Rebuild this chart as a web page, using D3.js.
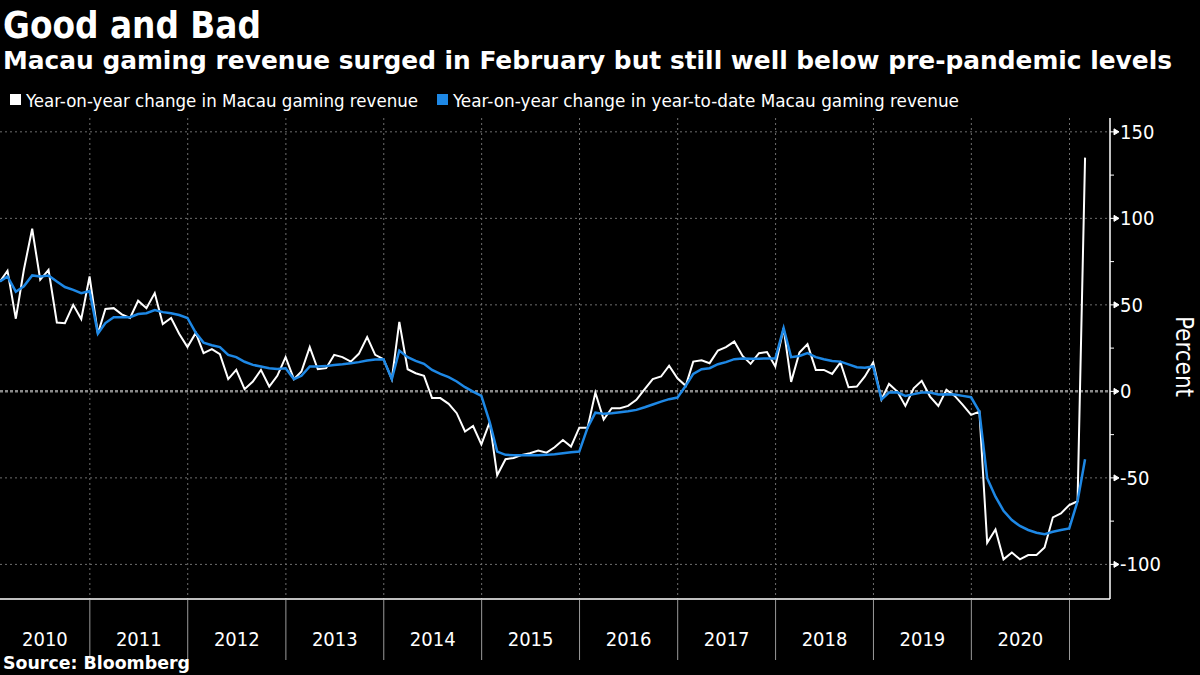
<!DOCTYPE html>
<html>
<head>
<meta charset="utf-8">
<script src="https://cdn.jsdelivr.net/npm/d3@7"></script>
<style>
  body { margin: 0; background: #000; }
  svg { display: block; background: #000; }
  text { font-family: "DejaVu Sans Condensed", "DejaVu Sans", sans-serif; fill: #fff; }
</style>
</head>
<body>
<svg width="1200" height="675"></svg>
<script>
// Monthly series, Jan 2010 .. Feb 2021 (percent, year-on-year)
const yoyMonthly = [
    63.5, 69.7, 42, 70.3, 94, 64.5, 70.3, 39.8, 39.4, 50, 41.8, 66.4,            // 2010
    33.4, 47.6, 48.1, 44.5, 42.4, 52.4, 48.1, 56.8, 38.9, 42.4, 33.3, 25.6,      // 2011
    33.8, 22.1, 24.4, 21.5, 7.1, 12.4, 1.3, 5.7, 12.4, 2.8, 9, 19.8,             // 2012
    7.1, 11.5, 25.6, 12.8, 13.4, 21.1, 19.8, 17.2, 21.7, 31.4, 21.1, 18.6,       // 2013
    7.1, 40.2, 12.8, 10.5, 9, -3.9, -3.9, -7.2, -12.6, -23.2, -20, -30.6,        // 2014
    -17.8, -48.5, -39.2, -38.5, -36.7, -35.8, -34.2, -35.4, -32.3, -28.1, -31.9, -21,  // 2015
    -21, -0.7, -16.3, -9.7, -9.7, -8.4, -4.9, 1.3, 7.1, 8.6, 14.8, 7.6,          // 2016
    3.2, 17.2, 18, 16.3, 23.6, 25.6, 28.8, 20.5, 15.9, 22.1, 22.7, 14.4,         // 2017
    36.6, 5.5, 22.5, 27.3, 12.4, 12.4, 10.1, 16.7, 2.4, 2.8, 8.6, 16.7,          // 2018
    -4.7, 4.3, -0.1, -8.4, 1.8, 6.1, -3, -8.4, 0.9, -2.6, -7.8, -13.6,           // 2019
    -11.7, -87.5, -79.8, -97.1, -93.1, -97.1, -94.6, -94.6, -90.2, -72.8, -70.5, -65.7, // 2020
    -63.5, 135.1                                                                 // 2021
];

// Year-to-date series, same months
const yoyYtd = [
    63.5, 66.4, 57.6, 60.7, 67, 66.4, 67, 63.5, 60.3, 58.7, 56.8, 58,
    33.4, 39.5, 42.9, 42.9, 42.9, 44.7, 45.2, 47, 45.8, 45.2, 44.1, 42.4,
    33.8, 28.2, 26.7, 25.6, 21.1, 19.8, 17.1, 15.3, 14.4, 13.4, 13, 13.4,
    7.1, 9, 14.4, 14.4, 14.6, 15.3, 15.7, 16.3, 16.9, 17.8, 18.4, 18.6,
    7.1, 23.6, 19.8, 17.6, 15.9, 12.4, 10.1, 8.2, 5.7, 2.4, -0.1, -2.6,
    -17.8, -34.8, -36.7, -36.9, -36.9, -36.9, -36.9, -36.7, -36.4, -35.8, -35.2, -34.8,
    -21, -12.3, -13, -12.6, -12, -11.5, -10.7, -9.2, -7.6, -5.9, -4.5, -3.6,
    3.2, 10.1, 12.8, 13.4, 15.7, 16.9, 18.6, 19, 18.8, 18.9, 19, 19,
    36.6, 19.8, 20.5, 22.1, 19.8, 18.6, 17.6, 17.2, 15.6, 14, 13.6, 14.4,
    -4.7, -0.7, -0.5, -2.6, -1.6, -0.7, -0.7, -1.8, -1.6, -1.8, -2.6, -3.4,
    -11.7, -50.2, -60.9, -69, -74.4, -77.8, -80.1, -81.7, -82.5, -81.1, -80.1, -79.2,
    -63.5, -39.2
];

// Axis labels
const years = ["2010", "2011", "2012", "2013", "2014", "2015", "2016", "2017", "2018", "2019", "2020", "2021"];
const yTicks = [150, 100, 50, 0, -50, -100];
const yMinorTicks = [125, 75, 25, -25, -75];

const legendItems = [
    { label: "Year-on-year change in Macau gaming revenue", color: "#ffffff" },
    { label: "Year-on-year change in year-to-date Macau gaming revenue", color: "#1e88e5" }
];

// Chart constants
const svg = d3.select("svg");
const plotLeft = 0, plotRight = 1110, plotTop = 118, plotBottom = 599;

// month-end dates for each point
const dates = yoyMonthly.map((v, i) => new Date(2010, i + 1, 0));

const x = d3.scaleTime()
    .domain([new Date(2010, 0, 31), new Date(2021, 5, 1)])
    .range([plotLeft, plotRight]);

const y = d3.scaleLinear()
    .domain([-120, 158])
    .range([plotBottom, plotTop]);

// Titles
svg.append("text")
    .attr("x", 3).attr("y", 38)
    .attr("font-size", 38).attr("font-weight", "bold")
    .attr("textLength", 258).attr("lengthAdjust", "spacingAndGlyphs")
    .text("Good and Bad");

svg.append("text")
    .attr("x", 3).attr("y", 69)
    .attr("font-size", 25).attr("font-weight", "bold")
    .attr("textLength", 1169).attr("lengthAdjust", "spacingAndGlyphs")
    .text("Macau gaming revenue surged in February but still well below pre-pandemic levels");

// Legend
const legendX = [10, 437];
const legendW = [392, 506];
legendItems.forEach((item, i) => {
    svg.append("rect")
        .attr("x", legendX[i]).attr("y", 94)
        .attr("width", 11).attr("height", 11)
        .attr("fill", item.color);
    svg.append("text")
        .attr("x", legendX[i] + 16).attr("y", 107)
        .attr("font-size", 17)
        .attr("textLength", legendW[i]).attr("lengthAdjust", "spacingAndGlyphs")
        .text(item.label);
});

// Gridlines
svg.append("g")
    .selectAll("line")
    .data(yTicks)
    .enter()
    .append("line")
    .attr("x1", plotLeft).attr("x2", plotRight)
    .attr("y1", d => y(d)).attr("y2", d => y(d))
    .attr("stroke", d => d === 0 ? "#8a8a8a" : "#6e6e6e")
    .attr("stroke-width", d => d === 0 ? 2.5 : 1)
    .attr("stroke-dasharray", d => d === 0 ? "3,2" : "2,3");

const yearStarts = years.slice(1).map(yr => new Date(+yr, 0, 1));

svg.append("g")
    .selectAll("line")
    .data(yearStarts)
    .enter()
    .append("line")
    .attr("x1", d => x(d)).attr("x2", d => x(d))
    .attr("y1", plotTop).attr("y2", plotBottom)
    .attr("stroke", "#6e6e6e")
    .attr("stroke-dasharray", "2,3");

// Lines
const line = d3.line()
    .x((d, i) => x(dates[i]))
    .y(d => y(d));

svg.append("path")
    .datum(yoyMonthly)
    .attr("fill", "none")
    .attr("stroke", legendItems[0].color)
    .attr("stroke-width", 2)
    .attr("d", line);

svg.append("path")
    .datum(yoyYtd)
    .attr("fill", "none")
    .attr("stroke", legendItems[1].color)
    .attr("stroke-width", 2.5)
    .attr("d", line);

// Axis frame
svg.append("line")
    .attr("x1", plotLeft).attr("x2", plotRight)
    .attr("y1", plotBottom).attr("y2", plotBottom)
    .attr("stroke", "#fff").attr("stroke-width", 1.5);

svg.append("line")
    .attr("x1", plotRight).attr("x2", plotRight)
    .attr("y1", plotTop).attr("y2", plotBottom)
    .attr("stroke", "#fff").attr("stroke-width", 1.5);

// Right axis ticks and labels
const yAxis = svg.append("g");
yAxis.selectAll("path")
    .data(yTicks)
    .enter()
    .append("path")
    .attr("d", d => `M${plotRight},${y(d)}H${plotRight + 4}M${plotRight + 4},${y(d) - 3}L${plotRight + 9},${y(d)}L${plotRight + 4},${y(d) + 3}Z`)
    .attr("stroke", "#fff")
    .attr("fill", "#fff");

yAxis.selectAll("line")
    .data(yMinorTicks)
    .enter()
    .append("line")
    .attr("x1", plotRight).attr("x2", plotRight + 4)
    .attr("y1", d => y(d)).attr("y2", d => y(d))
    .attr("stroke", "#fff");

yAxis.selectAll("text")
    .data(yTicks)
    .enter()
    .append("text")
    .attr("x", plotRight + 10)
    .attr("y", d => y(d) + 7)
    .attr("font-size", 20)
    .text(d => d < 0 ? "-" + Math.abs(d) : d);

svg.append("text")
    .attr("transform", `translate(1176,${(plotTop + plotBottom) / 2 - 2}) rotate(90)`)
    .attr("text-anchor", "middle")
    .attr("font-size", 24)
    .text("Percent");

// Bottom year separators and labels
svg.append("g")
    .selectAll("line")
    .data(yearStarts)
    .enter()
    .append("line")
    .attr("x1", d => x(d)).attr("x2", d => x(d))
    .attr("y1", plotBottom + 1).attr("y2", 660)
    .attr("stroke", "#9a9a9a");

svg.append("g")
    .selectAll("text")
    .data(years.slice(0, -1))
    .enter()
    .append("text")
    .attr("x", d => {
        const a = Math.max(plotLeft, x(new Date(+d, 0, 1)));
        const b = x(new Date(+d + 1, 0, 1));
        return (a + b) / 2;
    })
    .attr("y", 646)
    .attr("text-anchor", "middle")
    .attr("font-size", 20)
    .text(d => d);

// Source
svg.append("text")
    .attr("x", 3).attr("y", 669)
    .attr("font-size", 18).attr("font-weight", "bold")
    .attr("textLength", 187).attr("lengthAdjust", "spacingAndGlyphs")
    .text("Source: Bloomberg");
</script>
</body>
</html>
